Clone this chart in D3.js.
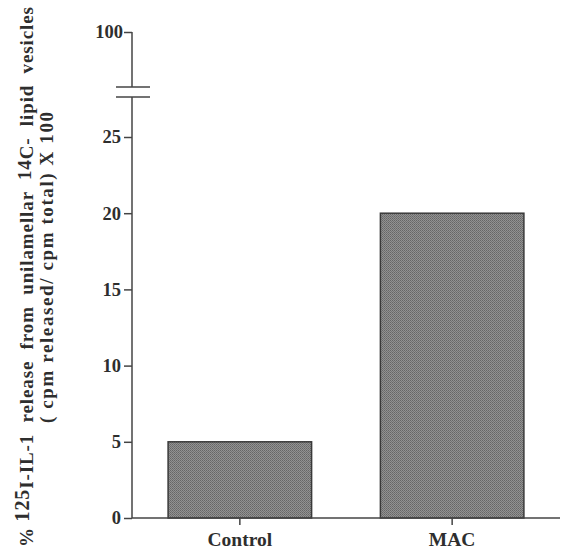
<!DOCTYPE html>
<html>
<head>
<meta charset="utf-8">
<script src="https://cdn.jsdelivr.net/npm/d3@7"></script>
<style>
  html, body { margin: 0; padding: 0; background: #fff; }
  svg { display: block; }
  text { font-family: "Liberation Serif", "Times New Roman", serif; font-weight: bold; fill: #2e2e2e; }
</style>
</head>
<body>
<script>
const categories = ["Control", "MAC"];
const values = [5, 20];
const lowerTicks = [0, 5, 10, 15, 20, 25];
const upperTicks = [100];
const lowerDomain = [0, 25];
const upperDomain = [90, 100];

const W = 562, H = 552;
const svg = d3.select("body").append("svg").attr("width", W).attr("height", H);

const axisX = 132;
const baseY = 518;

// pattern for stippled bars
const defs = svg.append("defs");
const pat = defs.append("pattern").attr("id", "stip").attr("width", 2).attr("height", 2)
  .attr("patternUnits", "userSpaceOnUse");
pat.append("rect").attr("width", 2).attr("height", 2).attr("fill", "#929292");
pat.append("rect").attr("width", 1).attr("height", 1).attr("fill", "#666");
pat.append("rect").attr("x", 1).attr("y", 1).attr("width", 1).attr("height", 1).attr("fill", "#727272");

const y = d3.scaleLinear().domain(lowerDomain).range([baseY, 137]);
const yTop = d3.scaleLinear().domain(upperDomain).range([87, 32]);

const x = d3.scaleBand().domain(categories).range([axisX, 560])
  .paddingInner(0.324).paddingOuter(0.17);

// bars
svg.append("g").selectAll("rect").data(values).join("rect")
  .attr("x", (d, i) => x(categories[i]))
  .attr("y", d => y(d))
  .attr("width", x.bandwidth())
  .attr("height", d => baseY - y(d))
  .attr("fill", "url(#stip)")
  .attr("stroke", "#3a3a3a")
  .attr("stroke-width", 1.5);

// lower y axis
const gL = svg.append("g").attr("transform", `translate(${axisX},0)`)
  .call(d3.axisLeft(y).tickValues(lowerTicks).tickSize(8).tickPadding(3).tickFormat(d3.format("d")));
gL.select(".domain").remove();
gL.append("line").attr("x1", 0).attr("x2", 0).attr("y1", baseY).attr("y2", 97)
  .attr("stroke", "#444").attr("stroke-width", 1.5);

// upper y axis
const gU = svg.append("g").attr("transform", `translate(${axisX},0)`)
  .call(d3.axisLeft(yTop).tickValues(upperTicks).tickSize(8).tickPadding(1).tickFormat(d3.format("d")));
gU.select(".domain").remove();
gU.append("line").attr("x1", 0).attr("x2", 0).attr("y1", 32).attr("y2", 87)
  .attr("stroke", "#444").attr("stroke-width", 1.5);

[gL, gU].forEach(g => {
  g.selectAll(".tick line").attr("stroke", "#444").attr("stroke-width", 1.5);
  g.selectAll(".tick text").style("font-size", "18.5px").attr("fill", "#2e2e2e")
    .style("font-family", "'Liberation Serif', serif").style("font-weight", "bold");
});

// break marks
svg.append("g").selectAll("line").data([87, 97]).join("line")
  .attr("x1", 116).attr("x2", 150).attr("y1", d => d).attr("y2", d => d)
  .attr("stroke", "#444").attr("stroke-width", 1.5);

// x axis
const gX = svg.append("g").attr("transform", `translate(0,${baseY})`)
  .call(d3.axisBottom(x).tickSize(7).tickPadding(7));
gX.select(".domain").remove();
gX.append("line").attr("x1", axisX).attr("x2", 560).attr("y1", 0).attr("y2", 0)
  .attr("stroke", "#444").attr("stroke-width", 1.5);
gX.selectAll(".tick line").attr("stroke", "#444").attr("stroke-width", 1.5);
gX.selectAll(".tick text").style("font-size", "19.5px").attr("fill", "#2e2e2e")
  .style("font-family", "'Liberation Serif', serif").style("font-weight", "bold");

// y title line 1
const t1 = svg.append("text")
  .attr("transform", "translate(33,547) rotate(-90)")
  .attr("text-anchor", "start")
  .attr("textLength", 540).attr("lengthAdjust", "spacing")
  .style("white-space", "pre")
  .style("font-size", "19px");
t1.append("tspan").text("% ");
t1.append("tspan").attr("dy", -4).style("font-size", "20px").text("125");
t1.append("tspan").attr("dy", 4).text("I-IL-1  release  from  unilamellar  ");
t1.append("tspan").attr("dy", -2).text("14");
t1.append("tspan").attr("dy", 2).text("C-  lipid  vesicles");

// y title line 2
svg.append("text")
  .attr("transform", "translate(53,423) rotate(-90)")
  .attr("text-anchor", "start")
  .attr("textLength", 311).attr("lengthAdjust", "spacing")
  .style("white-space", "pre")
  .style("font-size", "19px")
  .text("( cpm released/ cpm total) X 100");
</script>
</body>
</html>
